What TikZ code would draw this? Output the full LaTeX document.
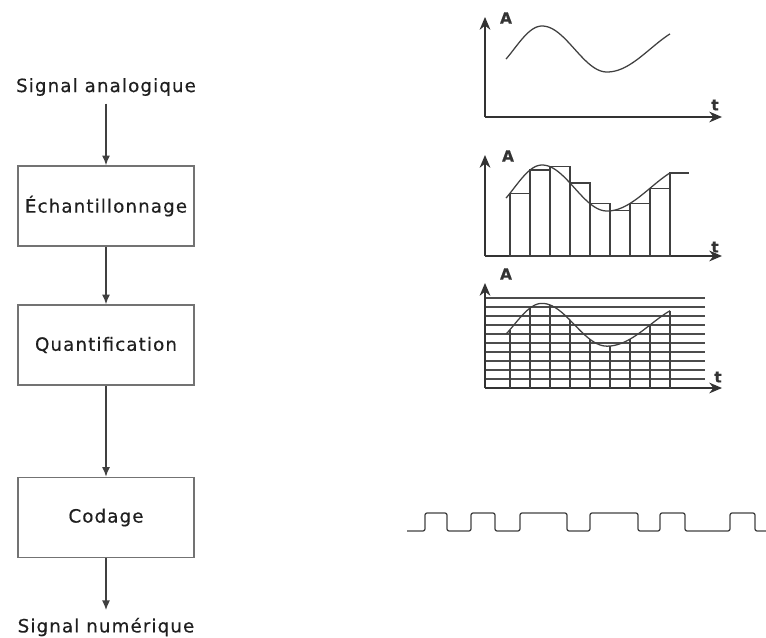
\documentclass[tikz,border=0pt]{standalone}
\usepackage{fontspec}
\newfontfamily\labelfont{DejaVu Sans}[LetterSpace=6, FakeBold=0.4]
\usetikzlibrary{arrows.meta, positioning}

\begin{document}
\begin{tikzpicture}[
    x=0.025cm, y=-0.025cm,
    >=Latex,
    font=\labelfont\fontsize{13}{15}\selectfont,
    declare function={wavey(\t) = (\t<57) ? 68+23*cos(-116+3.2222*(\t-21)) : ((\t<122) ? 68+23*cos(2.7692*(\t-57)) : 68+23*cos(180+2.0794*(\t-122)));},
    stage/.style={draw=black!55, line width=1.2pt, minimum width=4.4cm, minimum height=2cm, inner sep=0pt, text=black!88},
    sigtext/.style={inner sep=2pt, outer sep=3.5pt, text=black!88},
    flow/.style={-{Latex[length=2.4mm, width=2mm]}, line width=0.9pt, draw=black!75},
    axis/.style={-{Stealth[length=3.2mm, width=2.7mm]}, line width=1pt, draw=black!80},
    trace/.style={line width=0.9pt, draw=black!75},
    level/.style={line width=0.75pt, draw=black!70},
    axlab/.style={font=\labelfont\bfseries\fontsize{11}{12}\selectfont, inner sep=0pt, text=black!80},
    wave/.style={insert path={plot[domain=21:185, samples=90, smooth] (\x,{wavey(\x)})}}
]
\useasboundingbox (0,0) rectangle (766,637);

% --------------------------------------------------------------------------
% Chain of stages
% --------------------------------------------------------------------------
\node[sigtext] (analog) at (106,87) {Signal analogique};
\node[stage] (ech) at (106,206) {Échantillonnage};
\node[stage] (quant) at (106,345) {Quantification};
\node[stage] (cod) at (106,517.5) {Codage};
\node[sigtext] (numeric) at (106,627) {Signal numérique};

\draw[flow] (analog) -- (ech);
\draw[flow] (ech) -- (quant);
\draw[flow] (quant) -- (cod);
\draw[flow] (cod) -- (numeric);

% --------------------------------------------------------------------------
% Analog signal
% --------------------------------------------------------------------------
\begin{scope}[shift={(485,117)}, yscale=-1]
    \draw[axis] (0,0) -- (0,100);
    \draw[axis] (0,0) -- (237,0);
    \node[axlab] (a1) at (21,99) {A};
    \node[axlab] (t1) at (230,12) {t};
    \draw[trace, wave];
\end{scope}

% Sampled signal
\begin{scope}[shift={(485,256)}, yscale=-1]
    \draw[axis] (0,0) -- (0,101);
    \draw[axis] (0,0) -- (237,0);
    \node[axlab] (a2) at (23,100) {A};
    \node[axlab] (t2) at (230,9) {t};
    \foreach \x in {25,45,...,165}
        \draw[trace] (\x,0) rectangle ++(20,{wavey(\x)});
    \draw[trace] (185,0) -- (185,{wavey(185)}) -- (204,{wavey(185)});
    \draw[trace, wave];
\end{scope}

% Quantized signal
\begin{scope}[shift={(485,388)}, yscale=-1]
    \foreach \k in {1,...,10}
        \draw[level] (0,9*\k) -- (220,9*\k);
    \draw[axis] (0,0) -- (0,105);
    \draw[axis] (0,0) -- (237,0);
    \node[axlab] (a3) at (21,114) {A};
    \node[axlab] (t3) at (233,11) {t};
    \begin{scope}[yscale=0.93]
        \foreach \x in {25,45,...,185}
            \draw[trace] (\x,0) -- (\x,{wavey(\x)});
        \draw[trace, wave];
    \end{scope}
\end{scope}

% Coded signal
\draw[trace, rounded corners=1.5pt] (407,531)
    foreach \r/\f in {425/447, 471/495, 520/567, 590/638, 660/685, 730/755} {
        -- (\r,531) -- (\r,513) -- (\f,513) -- (\f,531)
    } -- (766,531);

\end{tikzpicture}
\end{document}
